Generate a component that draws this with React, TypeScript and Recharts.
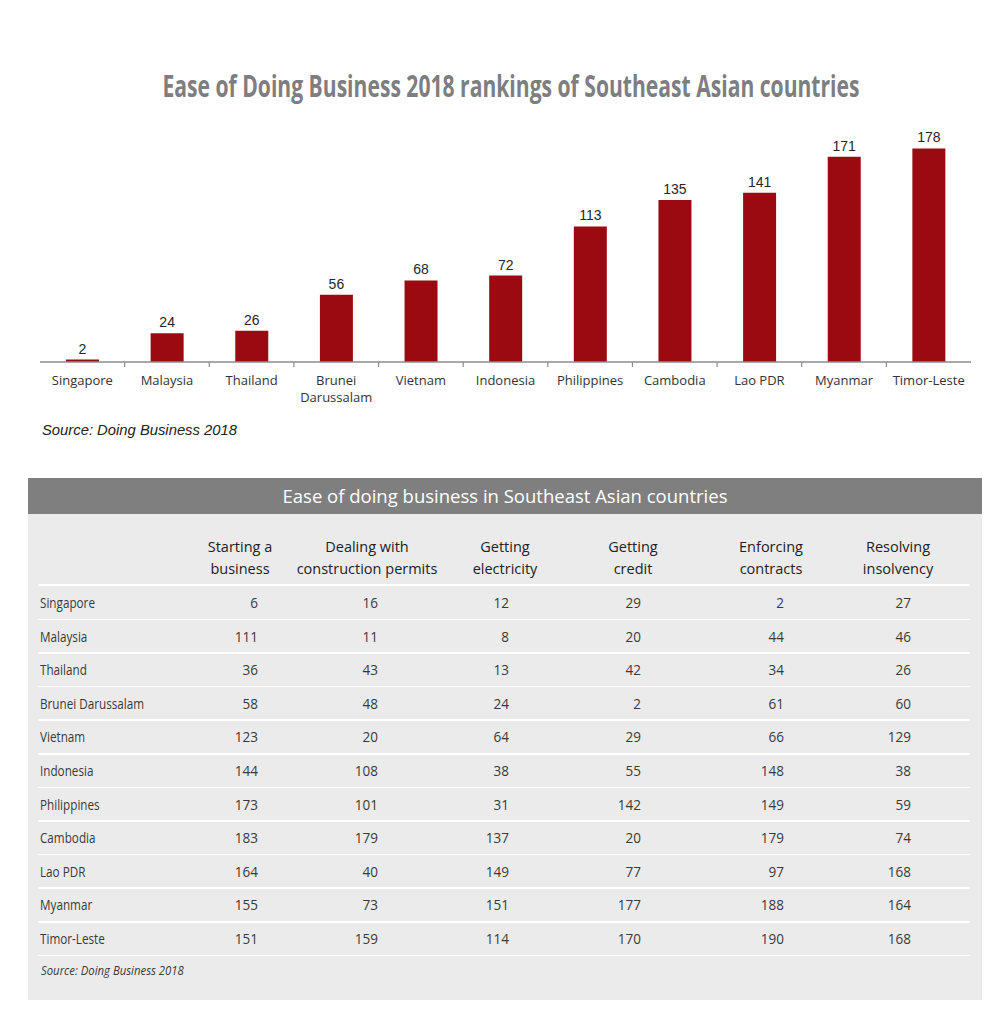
import React from 'react';
import { BarChart, Bar, XAxis, YAxis, LabelList } from 'recharts';

const countries = ['Singapore', 'Malaysia', 'Thailand', 'Brunei Darussalam', 'Vietnam', 'Indonesia', 'Philippines', 'Cambodia', 'Lao PDR', 'Myanmar', 'Timor-Leste'];
const overallRank = [2, 24, 26, 56, 68, 72, 113, 135, 141, 171, 178];

const indicatorHeaders = [
  ['Starting a', 'business'],
  ['Dealing with', 'construction permits'],
  ['Getting', 'electricity'],
  ['Getting', 'credit'],
  ['Enforcing', 'contracts'],
  ['Resolving', 'insolvency'],
];
const startingBusiness = [6, 111, 36, 58, 123, 144, 173, 183, 164, 155, 151];
const constructionPermits = [16, 11, 43, 48, 20, 108, 101, 179, 40, 73, 159];
const gettingElectricity = [12, 8, 13, 24, 64, 38, 31, 137, 149, 151, 114];
const gettingCredit = [29, 20, 42, 2, 29, 55, 142, 20, 77, 177, 170];
const enforcingContracts = [2, 44, 34, 61, 66, 148, 149, 179, 97, 188, 190];
const resolvingInsolvency = [27, 46, 26, 60, 129, 38, 59, 74, 168, 164, 168];

const chartTitle = 'Ease of Doing Business 2018 rankings of Southeast Asian countries';
const tableTitle = 'Ease of doing business in Southeast Asian countries';
const sourceText = 'Source: Doing Business 2018';

const chartData = countries.map((c, i) => ({ country: c, rank: overallRank[i] }));
const columns = [startingBusiness, constructionPermits, gettingElectricity, gettingCredit, enforcingContracts, resolvingInsolvency];

const CHART_W = 994;
const M_LEFT = 40;
const M_RIGHT = 23;
const BAND = (CHART_W - M_LEFT - M_RIGHT) / countries.length;

const sans = "'Open Sans', sans-serif";
const TITLE_SCALE = 0.63;

const CatTick = (props: any) => {
  const { x, y, payload, index } = props;
  const name: string = payload.value;
  const lines = name.includes(' ') && name.length > 10 ? name.split(' ') : [name];
  return (
    <g>
      {index > 0 && (
        <line x1={x - BAND / 2} x2={x - BAND / 2} y1={y} y2={y + 5} stroke="#8c8c8c" strokeWidth={1.2} />
      )}
      <text x={x} y={y + 23} textAnchor="middle" fontFamily={sans} fontSize={13} fill="#333">
        {lines.map((l, i) => (
          <tspan key={i} x={x} dy={i === 0 ? 0 : 17}>{l}</tspan>
        ))}
      </text>
    </g>
  );
};

const numRight = [258, 378, 509, 641, 784, 911];
const headCenter = [240, 367, 505, 633, 771, 898];
const rowTop = 586;
const rowH = 33.6;

export default function App() {
  return (
    <div style={{ position: 'absolute', left: 0, top: 0, width: 994, height: 1024, background: '#fff' }}>
      <svg style={{ position: 'absolute', left: 0, top: 0 }} width={994} height={120}>
        <g transform={`translate(511,97) scale(${TITLE_SCALE},1)`}>
          <text x={0} y={0} textAnchor="middle" fontFamily={sans} fontWeight="bold" fontSize={31} fill="#7d7e82"
            textLength={697 / TITLE_SCALE} lengthAdjust="spacingAndGlyphs">{chartTitle}</text>
        </g>
      </svg>
      <div style={{ position: 'absolute', left: 0, top: 0 }}>
        <BarChart width={CHART_W} height={420} data={chartData} margin={{ top: 122, right: M_RIGHT, left: M_LEFT, bottom: 18 }}>
          <XAxis dataKey="country" height={40} interval={0} tickSize={0} tickMargin={0}
            axisLine={{ stroke: '#8c8c8c', strokeWidth: 1.5 }} tickLine={false} tick={<CatTick />} />
          <YAxis hide domain={[0, 200]} />
          <Bar dataKey="rank" fill="#9b0a10" barSize={33} isAnimationActive={false}>
            <LabelList dataKey="rank" position="top" offset={6} fontFamily="'Liberation Sans', Arial, sans-serif" fontSize={14} fill="#262626" />
          </Bar>
        </BarChart>
      </div>
      <div style={{ position: 'absolute', left: 42, top: 422, fontFamily: "'Liberation Sans', Arial, sans-serif", fontStyle: 'italic', fontSize: 14.8, color: '#222' }}>
        {sourceText}
      </div>

      <div style={{ position: 'absolute', left: 28, top: 478, width: 954, height: 522, background: '#ebebeb' }} />
      <div style={{ position: 'absolute', left: 28, top: 478, width: 954, height: 36, background: '#7f7f7f', color: '#fff',
        fontFamily: sans, fontSize: 18.5, lineHeight: '36px', textAlign: 'center' }}>
        {tableTitle}
      </div>
      {indicatorHeaders.map((h, i) => (
        <div key={i} style={{ position: 'absolute', left: headCenter[i] - 80, width: 160, top: 536, textAlign: 'center',
          fontFamily: sans, fontSize: 14.5, lineHeight: '22px', color: '#222' }}>
          {h[0]}<br />{h[1]}
        </div>
      ))}
      <div style={{ position: 'absolute', left: 38, top: rowTop - 2, width: 932, height: 1.5, background: '#fff' }} />
      {countries.map((c, r) => (
        <React.Fragment key={c}>
          <div style={{ position: 'absolute', left: 40, top: rowTop + r * rowH, height: rowH, lineHeight: rowH + 'px',
            fontFamily: sans, fontSize: 15, color: '#3a3a3a', transform: 'scaleX(0.78)', transformOrigin: 'left center', whiteSpace: 'nowrap' }}>{c}</div>
          {columns.map((col, j) => (
            <div key={j} style={{ position: 'absolute', left: numRight[j] - 80, width: 80, textAlign: 'right', top: rowTop + r * rowH,
              height: rowH, lineHeight: rowH + 'px', fontFamily: sans, fontSize: 15, color: '#3a3a3a',
              transform: 'scaleX(0.9)', transformOrigin: 'right center' }}>{col[r]}</div>
          ))}
          <div style={{ position: 'absolute', left: 38, top: rowTop + (r + 1) * rowH - 1, width: 932, height: 1.5, background: '#fff' }} />
        </React.Fragment>
      ))}
      <div style={{ position: 'absolute', left: 41, top: 961, fontFamily: sans, fontStyle: 'italic', fontSize: 13.5, color: '#3a3a3a',
        transform: 'scaleX(0.84)', transformOrigin: 'left center', whiteSpace: 'nowrap' }}>
        {sourceText}
      </div>
    </div>
  );
}
